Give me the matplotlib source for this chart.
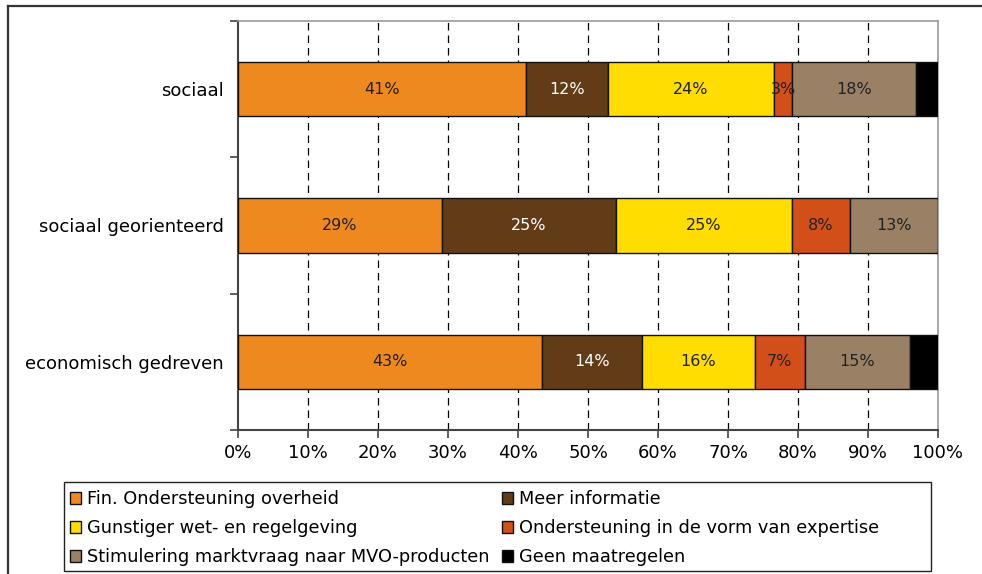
import matplotlib
matplotlib.use("Agg")
import matplotlib.pyplot as plt
from matplotlib.lines import Line2D
from matplotlib.patches import Rectangle
from matplotlib.ticker import FixedLocator, PercentFormatter
import numpy as np

# Response groups, top to bottom
groups = ["sociaal", "sociaal georienteerd", "economisch gedreven"]

# Share of each suggested measure per group (%)
fin_ondersteuning = [41.1, 29.1, 43.4]
meer_informatie = [11.7, 24.9, 14.3]
gunstiger_wetgeving = [23.7, 25.1, 16.1]
expertise = [2.7, 8.3, 7.2]
marktvraag = [17.6, 12.6, 15.0]
geen_maatregelen = [3.2, 0.0, 4.0]

series_labels = [
    "Fin. Ondersteuning overheid",
    "Meer informatie",
    "Gunstiger wet- en regelgeving",
    "Ondersteuning in de vorm van expertise",
    "Stimulering marktvraag naar MVO-producten",
    "Geen maatregelen",
]
series = [fin_ondersteuning, meer_informatie, gunstiger_wetgeving,
          expertise, marktvraag, geen_maatregelen]
colors = ["#EE891F", "#623C17", "#FFDD00", "#D34F19", "#9A8166", "#000000"]
text_colors = ["#222222", "white", "#222222", "#222222", "#222222", None]

plt.rcParams["font.family"] = "DejaVu Sans"

W, H = 982, 574
fig = plt.figure(figsize=(W / 100, H / 100), dpi=100)
ax = fig.add_axes([238 / W, 1 - 430 / H, 700 / W, 409 / H])

y = np.arange(len(groups))
left = np.zeros(len(groups))
handles = []
for vals, lab, col, tcol in zip(series, series_labels, colors, text_colors):
    vals = np.array(vals)
    bars = ax.barh(y, vals, left=left, height=0.4, color=col,
                   edgecolor="#111111", linewidth=1.0, label=lab, zorder=3)
    handles.append(bars)
    if tcol is not None:
        for yi, v, l0 in zip(y, vals, left):
            if v > 0:
                ax.text(l0 + v / 2, yi, f"{v:.0f}%", ha="center", va="center",
                        color=tcol, fontsize=11.5, zorder=4)
    left += vals

ax.set_xlim(0, 100)
ax.set_ylim(2.5, -0.5)

# x axis: 10% steps with dashed vertical gridlines
ax.set_xticks(np.arange(0, 101, 10))
ax.xaxis.set_major_formatter(PercentFormatter(decimals=0))
ax.tick_params(axis="x", direction="out", length=6, width=1.2,
               color="#444444", labelsize=13, pad=4)
for xv in range(10, 100, 10):
    ax.axvline(xv, color="black", linewidth=0.9, linestyle=(0, (6, 4)), zorder=1)

# y axis: group names at centres, tick marks at the boundaries
ax.set_yticks(y)
ax.set_yticklabels(groups)
ax.tick_params(axis="y", which="major", length=0, labelsize=13, pad=10)
ax.yaxis.set_minor_locator(FixedLocator([-0.5, 0.5, 1.5, 2.5]))
ax.tick_params(axis="y", which="minor", direction="out", length=6,
               width=1.2, color="#444444")

for side in ("left", "bottom"):
    ax.spines[side].set_color("#444444")
    ax.spines[side].set_linewidth(1.5)
for side in ("top", "right"):
    ax.spines[side].set_color("#999999")
    ax.spines[side].set_linewidth(1.2)

# legend: two columns, filled row by row, inside a fixed box
order = [0, 2, 4, 1, 3, 5]
leg = fig.legend([handles[i] for i in order], [series_labels[i] for i in order],
                 ncol=2, loc="upper left",
                 bbox_to_anchor=(64 / W, 1 - 484 / H),
                 fontsize=12.8, frameon=False,
                 handlelength=0.62, handleheight=0.62,
                 handletextpad=0.3, labelspacing=0.62, columnspacing=0.75,
                 borderaxespad=0.0, borderpad=0.35)
fig.add_artist(Rectangle((64 / W, 1 - 571 / H), (931 - 64) / W, (571 - 482) / H,
                         transform=fig.transFigure, fill=False,
                         edgecolor="#222222", linewidth=1.0))

# chart border (top and left edges)
fig.add_artist(Line2D([8 / W, 8 / W], [0, 1 - 6 / H],
                      transform=fig.transFigure, color="#333333", linewidth=1.6))
fig.add_artist(Line2D([8 / W, 1], [1 - 6 / H, 1 - 6 / H],
                      transform=fig.transFigure, color="#333333", linewidth=1.6))

fig.savefig("out.png", dpi=100)
